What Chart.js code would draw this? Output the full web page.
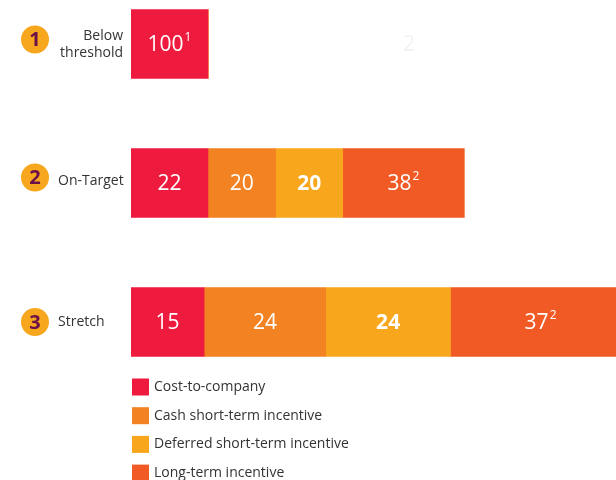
<!DOCTYPE html>
<html>
<head>
<meta charset="utf-8">
<script src="https://cdn.jsdelivr.net/npm/chart.js@4/dist/chart.umd.min.js"></script>
<style>
html, body { margin: 0; padding: 0; background: #fff; }
#contenedor { position: relative; width: 616px; height: 480px; }
</style>
</head>
<body>
<div id="contenedor"><canvas id="chartPaquete"></canvas></div>
<script>
// escenarios y series
const escenarios = [["Below", "threshold"], "On-Target", "Stretch"];
const numeros = ["1", "2", "3"];
const series = ["Cost-to-company", "Cash short-term incentive", "Deferred short-term incentive", "Long-term incentive"];
const colores = ["#EE1B3F", "#F38222", "#F8A71C", "#F15A25"];

// longitud de cada tramo, relativa al paquete "below threshold" (=100)
const costeEmpresa = [100, 100, 95];
const stiEfectivo = [0, 88, 158];
const stiDiferido = [0, 87, 162];
const ilp = [0, 158, 234];

// porcentajes que se muestran dentro de cada tramo
const pctCoste = ["100", "22", "15"];
const pctStiEfectivo = ["", "20", "24"];
const pctStiDiferido = ["", "20", "24"];
const pctIlp = ["", "38", "37"];
const notasCoste = ["1", "", ""];
const notasIlp = ["", "2", "2"];

// nota suelta (casi invisible) en la fila 1
const notaSuelta = { texto: "2", fila: 0, valor: 361 };

const FUENTE = "'Open Sans', 'Noto Sans', sans-serif";

const etiquetas = [
    { textos: pctCoste, notas: notasCoste, negrita: false },
    { textos: pctStiEfectivo, notas: ["", "", ""], negrita: false },
    { textos: pctStiDiferido, notas: ["", "", ""], negrita: true },
    { textos: pctIlp, notas: notasIlp, negrita: false }
];

const pluginEtiquetas = {
    id: "etiquetas",
    afterDatasetsDraw(chart) {
        const ctx = chart.ctx;
        ctx.save();
        ctx.textBaseline = "middle";
        ctx.textAlign = "left";
        etiquetas.forEach((et, i) => {
            const meta = chart.getDatasetMeta(i);
            meta.data.forEach((barra, j) => {
                const txt = et.textos[j];
                if (!txt) return;
                const cx = (barra.x + barra.base) / 2;
                const cy = barra.y;
                ctx.font = (et.negrita ? "bold " : "") + "21px " + FUENTE;
                const w = ctx.measureText(txt).width;
                ctx.font = "12px " + FUENTE;
                const ws = et.notas[j] ? ctx.measureText(et.notas[j]).width + 1 : 0;
                const x0 = cx - (w + ws) / 2;
                ctx.fillStyle = "#ffffff";
                ctx.font = (et.negrita ? "bold " : "") + "21px " + FUENTE;
                ctx.fillText(txt, x0, cy + 1);
                if (et.notas[j]) {
                    ctx.font = "12px " + FUENTE;
                    ctx.fillText(et.notas[j], x0 + w + 1, cy - 6);
                }
            });
        });
        // nota suelta
        const ys = chart.scales.y.getPixelForValue(notaSuelta.fila);
        const xs = chart.scales.x.getPixelForValue(notaSuelta.valor);
        ctx.fillStyle = "#f2f2f2";
        ctx.textAlign = "center";
        ctx.font = "21px " + FUENTE;
        ctx.fillText(notaSuelta.texto, xs, ys + 1);
        ctx.restore();
    }
};

// insignias numeradas y nombres de escenario a la izquierda
const pluginInsignias = {
    id: "insignias",
    afterDraw(chart) {
        const ctx = chart.ctx;
        const escalaY = chart.scales.y;
        const desfase = [-4.5, -5.5, 0];
        ctx.save();
        numeros.forEach((n, i) => {
            const yc = escalaY.getPixelForValue(i);
            const y = yc + desfase[i];
            ctx.beginPath();
            ctx.arc(35, y, 14, 0, Math.PI * 2);
            ctx.fillStyle = "#F7A71D";
            ctx.fill();
            ctx.fillStyle = "#6B1049";
            ctx.font = "bold 20px " + FUENTE;
            ctx.textAlign = "center";
            ctx.textBaseline = "middle";
            ctx.fillText(n, 35, y + 1);

            ctx.fillStyle = "#333333";
            ctx.font = "14px " + FUENTE;
            const nombre = escenarios[i];
            if (Array.isArray(nombre)) {
                ctx.textAlign = "right";
                nombre.forEach((linea, k) => {
                    ctx.fillText(linea, 123, yc - 8 + k * 17);
                });
            } else {
                ctx.textAlign = "left";
                ctx.fillText(nombre, 58, yc - (i === 1 ? 1.5 : 0));
            }
        });
        ctx.restore();
    }
};

const pluginLeyenda = {
    id: "leyendaPropia",
    afterDraw(chart) {
        const ctx = chart.ctx;
        ctx.save();
        chart.data.datasets.forEach((ds, i) => {
            const y = 387 + i * 28.7;
            ctx.fillStyle = ds.backgroundColor;
            ctx.fillRect(132, y - 8.5, 17, 17);
            ctx.fillStyle = "#333333";
            ctx.font = "14px " + FUENTE;
            ctx.textAlign = "left";
            ctx.textBaseline = "middle";
            ctx.fillText(ds.label, 154, y);
        });
        ctx.restore();
    }
};

const datos = [costeEmpresa, stiEfectivo, stiDiferido, ilp];

const ctx = document.getElementById("chartPaquete").getContext("2d");
const chart = new Chart(ctx, {
    type: "bar",
    data: {
        labels: escenarios,
        datasets: series.map((s, i) => ({
            label: s,
            data: datos[i],
            backgroundColor: colores[i],
            borderWidth: 0,
            barThickness: 69,
            clip: { left: 0, top: false, right: 0, bottom: false }
        }))
    },
    options: {
        indexAxis: "y",
        responsive: true,
        maintainAspectRatio: false,
        animation: { duration: 0 },
        layout: { padding: { top: 44, bottom: 158, left: 0, right: 0 } },
        plugins: { legend: { display: false }, tooltip: { enabled: false } },
        scales: {
            x: { stacked: true, display: false, min: 0, max: 630 },
            y: {
                stacked: true,
                offset: false,
                border: { display: false },
                grid: { display: false, drawTicks: false },
                ticks: { display: false },
                afterFit(escala) { escala.width = 131; }
            }
        }
    },
    plugins: [pluginEtiquetas, pluginInsignias, pluginLeyenda]
});
</script>
</body>
</html>
